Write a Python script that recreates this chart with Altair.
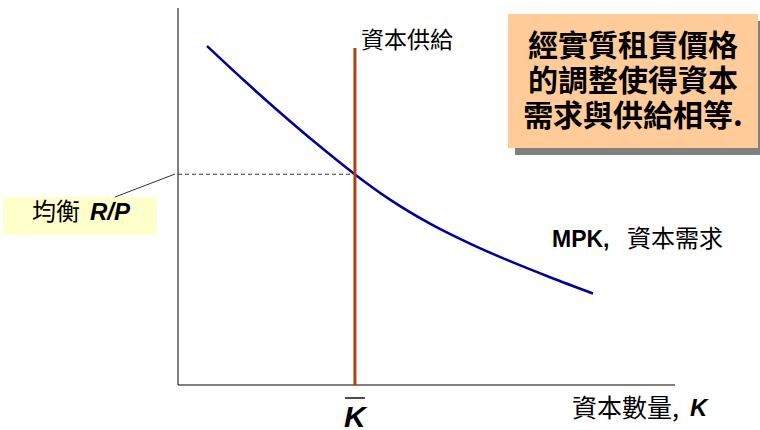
import altair as alt
import pandas as pd

# Demand curve (MPK), in axis units (0-100)
K_curve = [5.84, 13.48, 20.52, 28.17, 35.61, 42.66, 50.70, 58.75, 66.80, 74.85, 83.50]
MPK_curve = [89.92, 80.56, 72.28, 63.71, 55.86, 49.18, 42.81, 37.51, 32.84, 28.59, 24.27]
K_bar = 35.6          # fixed capital supply
R_eq = 55.9           # equilibrium R/P
supply_top = 89.4
axis_max = 100

box_lines = ["經實質租賃價格", "的調整使得資本", "需求與供給相等."]

CJK = "Noto Sans CJK TC"
LAT = "Liberation Sans, Noto Sans CJK TC"

xs = alt.Scale(domain=[0, axis_max], nice=False, zero=False)
ys = alt.Scale(domain=[0, axis_max], nice=False, zero=False)

curve_df = pd.DataFrame({"K": K_curve, "R": MPK_curve})
one = pd.DataFrame({"K": [K_bar], "R": [R_eq], "top": [supply_top], "zero": [0], "max": [axis_max]})

axes_v = alt.Chart(one).mark_rule(color="black", strokeWidth=1).encode(
    x=alt.X("zero:Q", scale=xs, axis=None),
    y=alt.Y("zero:Q", scale=ys, axis=None), y2="max:Q")
axes_h = alt.Chart(one).mark_rule(color="black", strokeWidth=1).encode(
    x=alt.X("zero:Q", scale=xs, axis=None), x2="max:Q",
    y=alt.Y("zero:Q", scale=ys, axis=None))
dashed = alt.Chart(one).mark_rule(color="#333333", strokeWidth=1, strokeDash=[4, 3]).encode(
    x=alt.X("zero:Q", scale=xs, axis=None), x2="K:Q",
    y=alt.Y("R:Q", scale=ys, axis=None))
supply = alt.Chart(one).mark_rule(color="#b0410f", strokeWidth=3).encode(
    x=alt.X("K:Q", scale=xs, axis=None),
    y=alt.Y("zero:Q", scale=ys, axis=None), y2="top:Q")
demand = alt.Chart(curve_df).mark_line(color="#000099", strokeWidth=2.5, interpolate="monotone").encode(
    x=alt.X("K:Q", scale=xs, axis=None),
    y=alt.Y("R:Q", scale=ys, axis=None))

# Right info box with shadow
shadow = alt.Chart(one).mark_rect(color="#808080").encode(
    x=alt.value(337), x2=alt.value(587), y=alt.value(13), y2=alt.value(147))
box = alt.Chart(one).mark_rect(color="#FFCC99").encode(
    x=alt.value(330), x2=alt.value(580), y=alt.value(6), y2=alt.value(140))
box_df = pd.DataFrame({"t": box_lines, "yy": [39, 74, 109]})
box_text = alt.Chart(box_df).mark_text(font=CJK, fontSize=30, fontWeight="bold", color="black",
                                       align="center", baseline="middle").encode(
    x=alt.value(455), y=alt.Y("yy:Q", scale=None), text="t:N")

# Left equilibrium label
lbox = alt.Chart(one).mark_rect(color="#FFFFCC").encode(
    x=alt.value(-175), x2=alt.value(-21), y=alt.value(189), y2=alt.value(227))
leader = alt.Chart(one).mark_rule(color="#333333", strokeWidth=1).encode(
    x=alt.value(-63), x2=alt.value(-3), y=alt.value(189), y2=alt.value(166))
t_eq1 = alt.Chart(one).mark_text(text="均衡", font=CJK, fontSize=24, align="left", baseline="middle").encode(
    x=alt.value(-146), y=alt.value(205))
t_eq2 = alt.Chart(one).mark_text(text="R/P", font=LAT, fontSize=24, fontWeight="bold", fontStyle="italic",
                                 align="left", baseline="middle").encode(
    x=alt.value(-88), y=alt.value(205))

t_supply = alt.Chart(one).mark_text(text="資本供給", font=CJK, fontSize=23, align="left", baseline="middle").encode(
    x=alt.value(183), y=alt.value(33))
t_mpk1 = alt.Chart(one).mark_text(text="MPK,", font=LAT, fontSize=23, fontWeight="bold",
                                  align="left", baseline="middle").encode(
    x=alt.value(374), y=alt.value(232))
t_mpk2 = alt.Chart(one).mark_text(text="資本需求", font=CJK, fontSize=24, align="left", baseline="middle").encode(
    x=alt.value(449), y=alt.value(232))

t_kbar = alt.Chart(one).mark_text(text="K", font=LAT, fontSize=30, fontWeight="bold", fontStyle="italic",
                                  align="center", baseline="alphabetic").encode(
    x=alt.X("K:Q", scale=xs, axis=None), y=alt.value(419))
kbar_line = alt.Chart(one).mark_tick(color="black", thickness=2, size=20, orient="horizontal").encode(
    x=alt.X("K:Q", scale=xs, axis=None), y=alt.value(390))
t_xlab1 = alt.Chart(one).mark_text(text="資本數量,", font=CJK, fontSize=25, align="left", baseline="middle").encode(
    x=alt.value(394), y=alt.value(401))
t_xlab2 = alt.Chart(one).mark_text(text="K", font=LAT, fontSize=24, fontWeight="bold", fontStyle="italic",
                                   align="left", baseline="middle").encode(
    x=alt.value(512), y=alt.value(401))

chart = alt.layer(
    shadow, box, box_text, lbox, leader, t_eq1, t_eq2,
    axes_v, axes_h, dashed, demand, supply,
    t_supply, t_mpk1, t_mpk2, t_kbar, kbar_line, t_xlab1, t_xlab2
).properties(
    width=497, height=377,
    padding={"left": 178, "top": 8, "right": 85, "bottom": 45},
    autosize=alt.AutoSizeParams(type="none"),
).configure_view(stroke=None)

chart.save("out.html", embed_options={"renderer": "svg", "actions": False})
